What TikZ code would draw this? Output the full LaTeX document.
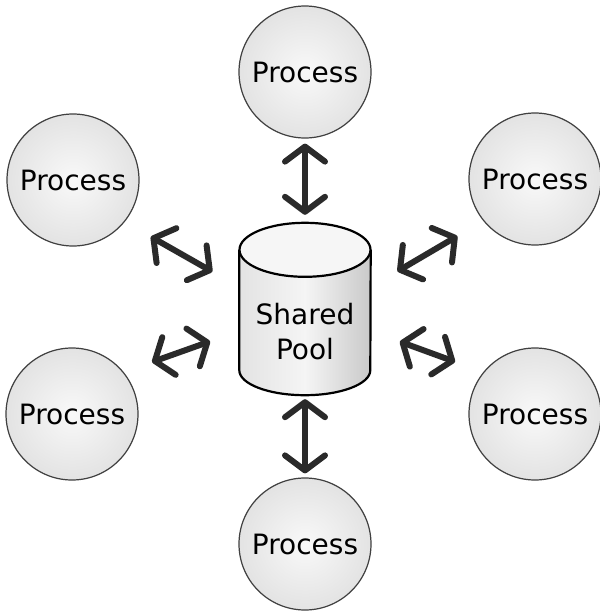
\documentclass[tikz,border=0pt]{standalone}
\usepackage{fontspec}
\setmainfont{DejaVu Sans}
\usetikzlibrary{arrows.meta, calc, backgrounds}

\definecolor{arrowgray}{HTML}{2A2A2A}
\def \procsize {132pt}

\tikzset{
  process/.style = {circle, draw = black!75, line width = 1.2pt, inner sep = 0pt,
    minimum size = \procsize, shading = radial, inner color = gray!5, outer color = gray!22,
    font = \fontsize{28}{32}\selectfont},
  pool/.style = {rectangle, minimum width = 131pt, minimum height = 172pt, inner sep = 0pt,
    font = \fontsize{28}{35}\selectfont},
  link/.style = {draw = arrowgray, line width = 6pt, line cap = round, line join = round,
    {Straight Barb[round, length = 15pt, width = 40pt]}-{Straight Barb[round, length = 15pt, width = 40pt]}}
}

\begin{document}
\begin{tikzpicture}[x = 1pt, y = -1pt]
\useasboundingbox (0, 0) rectangle (600, 614);

% the shared pool in the middle, text sits below the lid
\node (pool) [pool] at (305, 309) {\raisebox{-26pt}[\height][\depth]{\begin{tabular}{@{}c@{}}Shared\\Pool\end{tabular}}};

\begin{scope}[on background layer]
\fill[white] (0, 0) rectangle (600, 614);
% body of the drum
\shade[left color = gray!22, right color = gray!42, middle color = gray!8]
  ($(pool.north west) + (0, 27)$) -- ($(pool.south west) + (0, -25)$)
  arc [start angle = 180, end angle = 360, x radius = 65.5pt, y radius = 25pt]
  -- ($(pool.north east) + (0, 27)$)
  arc [start angle = 0, end angle = -180, x radius = 65.5pt, y radius = 27pt] -- cycle;
\draw[line width = 2.2pt, line join = round]
  ($(pool.north west) + (0, 27)$) -- ($(pool.south west) + (0, -25)$)
  arc [start angle = 180, end angle = 360, x radius = 65.5pt, y radius = 25pt]
  -- ($(pool.north east) + (0, 27)$);
% lid
\draw[line width = 2.2pt, fill = gray!7] ($(pool.north) + (0, 27)$) ellipse [x radius = 65.5pt, y radius = 27pt];
\end{scope}

% processes round it
\node (proc1) [process] at (305, 72) {Process};
\node (proc2) [process] at (73, 180) {Process};
\node (proc3) [process] at (535, 179) {Process};
\node (proc4) [process] at (72, 414) {Process};
\node (proc5) [process] at (535, 414) {Process};
\node (proc6) [process] at (305, 544) {Process};

% access arrows
\draw[link, shorten < = 5pt, shorten > = 8pt] (proc1.south) -- (pool.north);
\draw[link, shorten < = 4pt, shorten > = 4pt] (pool.south) -- (proc6.north);
\draw[link, shorten < = 30pt, shorten > = 31pt] (proc2.-39) -- ($(pool.west) + (0, -22)$);
\draw[link, shorten < = 30pt, shorten > = 31pt] (proc3.-141) -- ($(pool.east) + (0, -22)$);
\draw[link, shorten < = 30pt, shorten > = 31pt] (proc4.39) -- ($(pool.west) + (0, 22)$);
\draw[link, shorten < = 30pt, shorten > = 31pt] (proc5.141) -- ($(pool.east) + (0, 22)$);

\end{tikzpicture}
\end{document}
